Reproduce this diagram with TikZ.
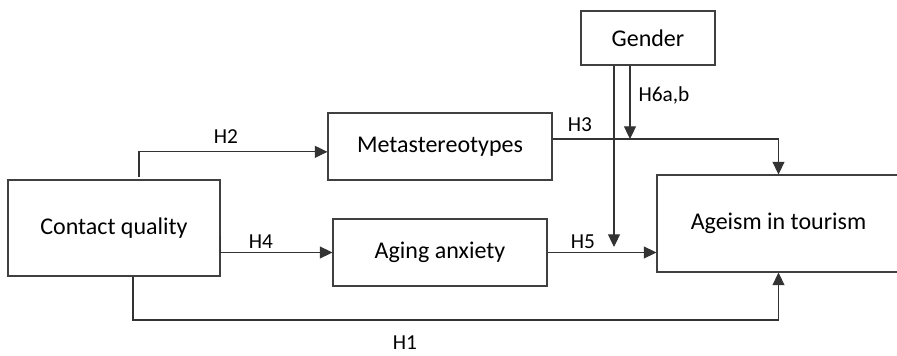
\documentclass[tikz,border=0pt]{standalone}
\usepackage{fontspec}
\setmainfont{Carlito}
\usepackage{tikz}
\usetikzlibrary{%
arrows.meta,%
calc}

\begin{document}
\begin{tikzpicture}[x=0.75pt,y=-0.75pt,
    box/.style={draw=black!75,line width=0.8pt,rectangle,inner sep=0pt,
      font=\fontsize{18}{22}\selectfont},
    link/.style={draw=black!80,line width=0.8pt,-{Triangle[length=9.5pt,width=9pt]}},
    hyp/.style={font=\fontsize{16}{19}\selectfont,inner sep=0pt}]
\useasboundingbox (0,0) rectangle (897,356);
% constructs
\node[box,minimum width=100.5pt,minimum height=40.5pt] (gender) at (648,38) {Gender};
\node[box,minimum width=168pt,minimum height=50.25pt] (meta) at (440,146.5) {Metastereotypes\hspace{10pt}};
\node[box,minimum width=159pt,minimum height=72pt] (contact) at (114,228) {Contact quality};
\node[box,minimum width=160.5pt,minimum height=50.25pt] (anxiety) at (440,252.5) {Aging anxiety\hspace{10pt}};
\node[box,minimum width=182.25pt,minimum height=72.75pt] (ageism) at (778.5,223.5) {Ageism in tourism};
% free ends of the moderation arrows
\coordinate (h3mod) at (630,139);
\coordinate (h5mod) at (614,247);
\coordinate (h1low) at (0,320);
% paths
\draw[link] ([xshift=18.75pt,yshift=2pt]contact.north) |- ([yshift=-4pt]meta.west);
\draw[link] ([yshift=-6pt]contact.east) |- (anxiety.west);
\draw[link] ([yshift=5.6pt]meta.east) -| (ageism.north);
\draw[link] (anxiety.east) -- (anxiety.east -| ageism.west);
\draw[link] ([xshift=14.25pt]contact.south) |- (h1low -| ageism.south) -- (ageism.south);
\draw[link] (gender.south -| h3mod) -- (h3mod);
\draw[link] (gender.south -| h5mod) -- (h5mod);
% labels
\node[hyp] (lh2) at (226,137) {H2};
\node[hyp] (lh4) at (261,242) {H4};
\node[hyp] (lh3) at (580,125) {H3};
\node[hyp] (lh5) at (583,242) {H5};
\node[hyp] (lh1) at (405,343) {H1};
\node[hyp] (lh6) at (664,95) {H6a,b};
\end{tikzpicture}
\end{document}
